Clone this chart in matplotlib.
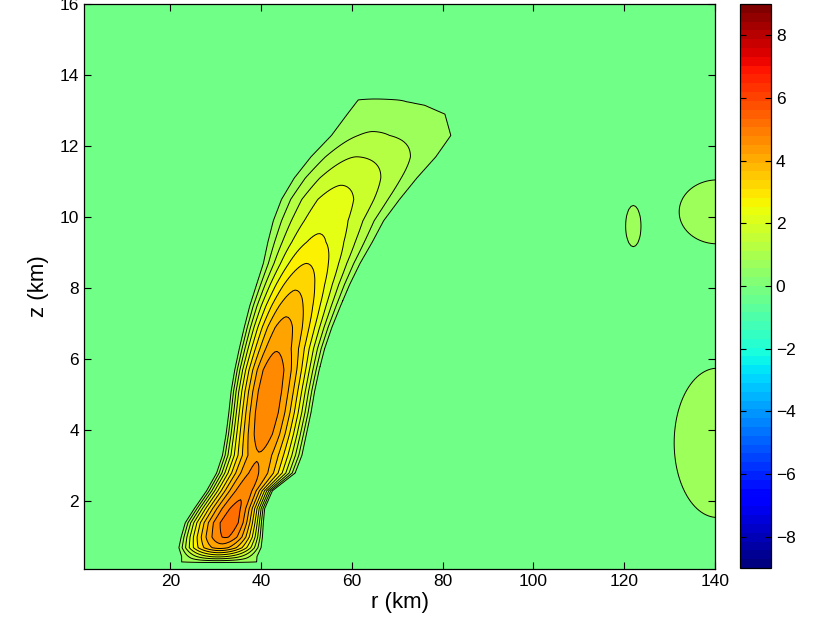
import numpy as np
import matplotlib.pyplot as plt
from matplotlib.colors import Normalize
import matplotlib.cm as cm

plt.rcParams['font.family'] = ['Liberation Sans', 'DejaVu Sans']

# plume ridge (z in km, r in km)
Z_ROWS     = [0.10, 0.25, 0.45, 0.70, 1.00, 1.40, 1.80, 2.30, 2.80, 3.30, 3.90, 4.50, 5.10,
              5.70, 6.30, 6.90, 7.50, 8.10, 8.70, 9.30, 9.90, 10.50, 11.10, 11.70, 12.30,
              12.90, 13.15, 13.40, 13.70, 16.0]
RIDGE_R    = [30.0, 30.0, 30.5, 31.0, 32.2, 33.3, 34.5, 36.5, 38.3, 39.5, 40.3, 41.0, 41.7,
              42.5, 43.5, 44.8, 46.3, 48.0, 50.0, 52.0, 54.0, 56.0, 58.5, 61.0, 63.5,
              69.0, 68.0, 64.0, 64.0, 64.0]
RIDGE_PEAK = [0.0, 0.2, 2.1, 4.2, 5.05, 5.35, 5.15, 4.85, 4.6, 4.45, 4.8, 4.95, 4.95,
              4.85, 4.45, 4.2, 3.8, 3.4, 3.0, 2.6, 2.35, 2.2, 1.9, 1.5, 1.05,
              0.78, 0.62, 0.45, 0.0, 0.0]
EDGE_LEFT  = [22.5, 22.5, 22.5, 21.9, 22.4, 23.3, 25.3, 28.0, 30.2, 31.5, 32.3, 32.9, 33.4,
              34.2, 35.2, 36.3, 37.5, 39.0, 40.5, 41.5, 42.7, 44.5, 47.3, 51.0, 55.5,
              59.0, 60.5, 62.0, 62.0, 62.0]
EDGE_RIGHT = [39.0, 39.0, 39.1, 40.0, 40.3, 40.5, 40.8, 42.5, 47.5, 49.0, 50.0, 51.0, 51.8,
              52.8, 54.0, 55.6, 57.5, 59.5, 61.8, 64.5, 67.0, 70.5, 74.3, 78.5, 81.8,
              80.5, 76.0, 66.0, 66.0, 66.0]

# small weak cells near the right edge
BLOB_R   = [122.0, 140.5, 140.5]
BLOB_Z   = [9.75, 10.15, 3.65]
BLOB_DR  = [1.7, 8.4, 9.5]
BLOB_DZ  = [0.58, 0.9, 2.1]
BLOB_AMP = [0.8, 0.8, 0.8]

LEVELS = [0.5, 1.0, 1.5, 2.0, 2.5, 3.0, 3.5, 4.0, 4.5, 5.0]
CB_TICKS = [-8, -6, -4, -2, 0, 2, 4, 6, 8]
P = 1.8

r = np.linspace(1, 140, 279)
z = np.linspace(0.1, 16, 319)
R, Z = np.meshgrid(r, z)

rc = np.interp(z, Z_ROWS, RIDGE_R)[:, None]
A = np.interp(z, Z_ROWS, RIDGE_PEAK)[:, None]
hl = rc - np.interp(z, Z_ROWS, EDGE_LEFT)[:, None]
hr = np.interp(z, Z_ROWS, EDGE_RIGHT)[:, None] - rc
frac = np.clip(1 - 0.5 / np.maximum(A, 0.51), 1e-3, 1) ** (1 / P)
d = np.where(R < rc, (rc - R) / (hl / frac), (R - rc) / (hr / frac))
field = np.maximum(A * (1 - d ** P), 0)

for br, bz, bdr, bdz, amp in zip(BLOB_R, BLOB_Z, BLOB_DR, BLOB_DZ, BLOB_AMP):
    f = (1 - 0.5 / amp) ** (1 / P)
    rho = np.sqrt(((R - br) / (bdr / f)) ** 2 + ((Z - bz) / (bdz / f)) ** 2)
    field = np.maximum(field, amp * (1 - rho ** P))

norm = Normalize(-9, 9)
jet = plt.get_cmap('jet')
fill_levels = [-1.0] + LEVELS + [9.0]
fill_colors = [jet(norm(-0.25))] + [jet(norm(L + 0.25)) for L in LEVELS]

fig = plt.figure(figsize=(8.27, 6.32), dpi=100)
ax = fig.add_axes([0.1016, 0.0997, 0.763, 0.894])
ax.contourf(R, Z, field, levels=fill_levels, colors=fill_colors)
ax.contour(R, Z, field, levels=LEVELS, colors='k', linewidths=0.7)

ax.set_xlim(1, 140)
ax.set_ylim(0.1, 16)
ax.set_xticks([20, 40, 60, 80, 100, 120, 140])
ax.set_yticks([2, 4, 6, 8, 10, 12, 14, 16])
ax.tick_params(direction='in', top=True, right=True, length=5, labelsize=12.5)
ax.set_xlabel('r (km)', fontsize=16, labelpad=2)
ax.set_ylabel('z (km)', fontsize=16, labelpad=8)
for s in ax.spines.values():
    s.set_linewidth(0.9)

cax = fig.add_axes([0.8948, 0.1013, 0.0375, 0.8924])
sm = cm.ScalarMappable(norm=norm, cmap=plt.get_cmap('jet', 64))
cb = fig.colorbar(sm, cax=cax, ticks=CB_TICKS)
cax.tick_params(direction='in', left=True, right=True, length=4, labelsize=12.5)
cb.outline.set_linewidth(0.9)

fig.savefig('out.png', dpi=100)
